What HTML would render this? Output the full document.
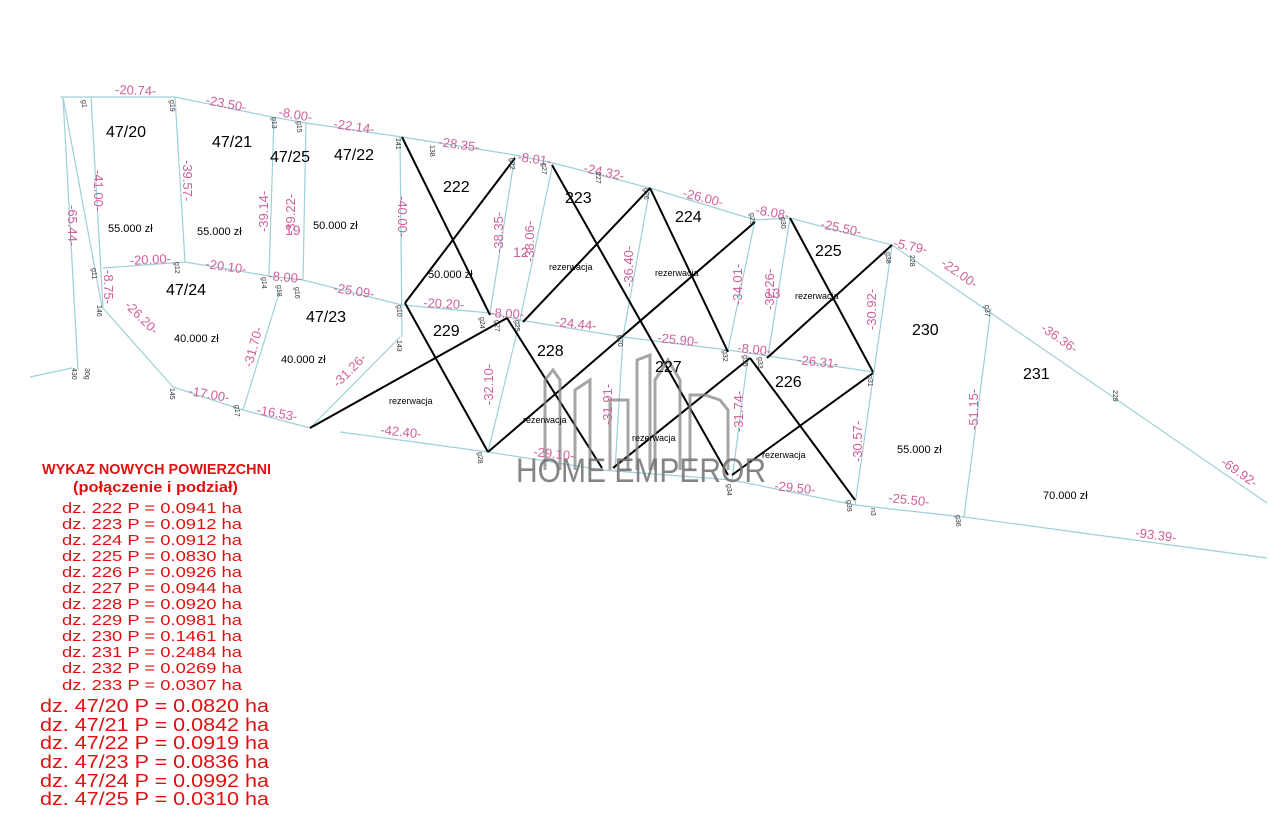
<!DOCTYPE html>
<html><head><meta charset="utf-8"><style>
html,body{margin:0;padding:0;background:#fff;}
svg{display:block;}
.b{stroke:#9fd0d6;stroke-width:1.2;fill:none}
.k{stroke:#000;stroke-width:2;fill:none}
.d{fill:#d0609a;font-family:"Liberation Sans",sans-serif;font-size:13px}
.n{fill:#333;font-family:"Liberation Sans",sans-serif;font-size:7px}
.p{fill:#000;font-family:"Liberation Sans",sans-serif;font-size:16px}
.z{fill:#000;font-family:"Liberation Sans",sans-serif;font-size:11px}
.r{fill:#000;font-family:"Liberation Sans",sans-serif;font-size:9px}
.red{fill:#e01010;font-family:"Liberation Sans",sans-serif}
</style></head><body>
<svg width="1280" height="838" viewBox="0 0 1280 838" xmlns="http://www.w3.org/2000/svg">
<!-- boundaries -->
<g class="b">
<polyline points="60,97 93,97 175,97 272,117 306,123 402,137 515,155 553,163 650,188 755,220 790,218 892,245 1267,503"/>
<polyline points="103,268 185,262 269,276 303,280 402,305 490,313 520,320 623,337 728,350 768,356 873,372"/>
<polyline points="340,432 488,452 602,470 732,480 855,505 964,517 1267,558"/>
<polyline points="102,307 173,387 243,410 310,428"/>
<line x1="63" y1="97" x2="102" y2="307"/>
<line x1="63" y1="97" x2="78" y2="370"/>
<line x1="91" y1="97" x2="103" y2="307"/>
<line x1="175" y1="97" x2="185" y2="262"/>
<line x1="274" y1="117" x2="269" y2="276"/>
<line x1="306" y1="123" x2="303" y2="280"/>
<line x1="280" y1="290" x2="243" y2="410"/>
<line x1="400" y1="137" x2="402" y2="337"/>
<line x1="400" y1="337" x2="310" y2="428"/>
<line x1="515" y1="155" x2="490" y2="313"/>
<line x1="553" y1="163" x2="520" y2="320"/>
<line x1="520" y1="320" x2="488" y2="452"/>
<line x1="650" y1="188" x2="623" y2="337"/>
<line x1="623" y1="337" x2="615" y2="470"/>
<line x1="755" y1="220" x2="728" y2="350"/>
<line x1="748" y1="356" x2="732" y2="480"/>
<line x1="790" y1="218" x2="768" y2="356"/>
<line x1="892" y1="245" x2="855" y2="505"/>
<line x1="991" y1="308" x2="964" y2="517"/>
<line x1="30" y1="377" x2="72" y2="368"/>
</g>
<!-- black X lines -->
<g class="k">
<line x1="402" y1="137" x2="490" y2="315"/>
<line x1="515" y1="158" x2="405" y2="303"/>
<line x1="552" y1="165" x2="728" y2="475"/>
<line x1="650" y1="188" x2="523" y2="322"/>
<line x1="650" y1="188" x2="728" y2="352"/>
<line x1="755" y1="222" x2="488" y2="452"/>
<line x1="507" y1="318" x2="602" y2="468"/>
<line x1="507" y1="318" x2="310" y2="428"/>
<line x1="405" y1="303" x2="488" y2="452"/>
<line x1="790" y1="218" x2="873" y2="372"/>
<line x1="892" y1="245" x2="767" y2="358"/>
<line x1="750" y1="358" x2="855" y2="500"/>
<line x1="750" y1="358" x2="613" y2="468"/>
<line x1="873" y1="373" x2="732" y2="475"/>
</g>
<!-- watermark -->
<g stroke="#888" stroke-width="3" fill="none" opacity="0.75">
<polyline points="545,470 545,380 553,370 560,380 560,470"/>
<polyline points="575,470 575,390 590,380 590,470"/>
<polyline points="610,470 610,400 628,400 628,470"/>
<polyline points="637,470 637,360 650,355 650,470"/>
<polyline points="655,470 655,380 668,360 680,380 680,470"/>
<polyline points="690,470 690,395 705,395 720,400 728,410 728,470"/>
</g>
<text x="516" y="482" font-family="Liberation Sans,sans-serif" font-size="34" fill="#707070" opacity="0.85" textLength="250" lengthAdjust="spacingAndGlyphs">HOME EMPEROR</text>
<!-- dimension labels -->
<g class="d">
<text x="115" y="94" transform="rotate(2 115 94)">-20.74-</text>
<text x="205" y="104" transform="rotate(11 205 104)">-23.50-</text>
<text x="278" y="116" transform="rotate(10 278 116)">-8.00-</text>
<text x="333" y="128" transform="rotate(8 333 128)">-22.14-</text>
<text x="438" y="146" transform="rotate(8 438 146)">-28.35-</text>
<text x="517" y="161" transform="rotate(8 517 161)">-8.01-</text>
<text x="583" y="172" transform="rotate(12 583 172)">-24.32-</text>
<text x="682" y="197" transform="rotate(14 682 197)">-26.00-</text>
<text x="755" y="214" transform="rotate(10 755 214)">-8.08-</text>
<text x="820" y="228" transform="rotate(12 820 228)">-25.50-</text>
<text x="893" y="247" transform="rotate(12 893 247)">-5.79-</text>
<text x="940" y="265" transform="rotate(35 940 265)">-22.00-</text>
<text x="1040" y="330" transform="rotate(35 1040 330)">-36.36-</text>
<text x="1220" y="464" transform="rotate(35 1220 464)">-69.92-</text>
<text x="130" y="265" transform="rotate(-3 130 265)">-20.00-</text>
<text x="205" y="268" transform="rotate(8 205 268)">-20.10-</text>
<text x="268" y="280" transform="rotate(5 268 280)">-8.00-</text>
<text x="333" y="292" transform="rotate(9 333 292)">-25.09-</text>
<text x="423" y="307" transform="rotate(3 423 307)">-20.20-</text>
<text x="490" y="317" transform="rotate(3 490 317)">-8.00-</text>
<text x="555" y="326" transform="rotate(6 555 326)">-24.44-</text>
<text x="657" y="342" transform="rotate(6 657 342)">-25.90-</text>
<text x="737" y="352" transform="rotate(6 737 352)">-8.00-</text>
<text x="797" y="364" transform="rotate(6 797 364)">-26.31-</text>
<text x="188" y="395" transform="rotate(10 188 395)">-17.00-</text>
<text x="256" y="414" transform="rotate(10 256 414)">-16.53-</text>
<text x="380" y="434" transform="rotate(6 380 434)">-42.40-</text>
<text x="533" y="456" transform="rotate(6 533 456)">-29.10-</text>
<text x="774" y="490" transform="rotate(6 774 490)">-29.50-</text>
<text x="888" y="502" transform="rotate(6 888 502)">-25.50-</text>
<text x="1135" y="537" transform="rotate(7 1135 537)">-93.39-</text>
<text x="124" y="306" transform="rotate(45 124 306)">-26.20-</text>
<text x="338" y="388" transform="rotate(-45 338 388)">-31.26-</text>
<text x="94" y="170" transform="rotate(90 94 170)">-41.00-</text>
<text x="183" y="160" transform="rotate(90 183 160)">-39.57-</text>
<text x="268" y="232" transform="rotate(-90 268 232)">-39.14-</text>
<text x="295" y="235" transform="rotate(-90 295 235)">-39.22-</text>
<text x="398" y="196" transform="rotate(90 398 196)">-40.00-</text>
<text x="68" y="205" transform="rotate(90 68 205)">-65.44-</text>
<text x="104" y="270" transform="rotate(90 104 270)">-8.75-</text>
<text x="252" y="368" transform="rotate(-75 252 368)">-31.70-</text>
<text x="503" y="253" transform="rotate(-90 503 253)">-38.35-</text>
<text x="534" y="262" transform="rotate(-90 534 262)">-38.06-</text>
<text x="633" y="287" transform="rotate(-90 633 287)">-36.40-</text>
<text x="742" y="305" transform="rotate(-90 742 305)">-34.01-</text>
<text x="774" y="310" transform="rotate(-90 774 310)">-32.26-</text>
<text x="876" y="330" transform="rotate(-90 876 330)">-30.92-</text>
<text x="493" y="405" transform="rotate(-90 493 405)">-32.10-</text>
<text x="612" y="425" transform="rotate(-90 612 425)">-31.91-</text>
<text x="743" y="432" transform="rotate(-90 743 432)">-31.74-</text>
<text x="862" y="462" transform="rotate(-90 862 462)">-30.57-</text>
<text x="978" y="430" transform="rotate(-90 978 430)">-51.15-</text>
<text x="285" y="235" font-size="14">19</text>
<text x="513" y="257" font-size="14">12</text>
<text x="765" y="298" font-size="14">13</text>
</g>
<!-- point numbers -->
<g class="n">
<text x="82" y="100" transform="rotate(90 82 100)">g1</text>
<text x="170" y="100" transform="rotate(90 170 100)">g19</text>
<text x="272" y="117" transform="rotate(90 272 117)">g13</text>
<text x="297" y="121" transform="rotate(90 297 121)">g15</text>
<text x="396" y="138" transform="rotate(90 396 138)">141</text>
<text x="430" y="145" transform="rotate(90 430 145)">138</text>
<text x="510" y="158" transform="rotate(90 510 158)">g22</text>
<text x="542" y="163" transform="rotate(90 542 163)">g27</text>
<text x="596" y="172" transform="rotate(90 596 172)">227</text>
<text x="644" y="188" transform="rotate(90 644 188)">g26</text>
<text x="750" y="213" transform="rotate(90 750 213)">g29</text>
<text x="781" y="217" transform="rotate(90 781 217)">g30</text>
<text x="886" y="252" transform="rotate(90 886 252)">g38</text>
<text x="910" y="255" transform="rotate(90 910 255)">228</text>
<text x="985" y="305" transform="rotate(90 985 305)">g37</text>
<text x="1113" y="390" transform="rotate(90 1113 390)">229</text>
<text x="92" y="268" transform="rotate(90 92 268)">g11</text>
<text x="175" y="262" transform="rotate(90 175 262)">g12</text>
<text x="262" y="277" transform="rotate(90 262 277)">g14</text>
<text x="277" y="285" transform="rotate(90 277 285)">g18</text>
<text x="295" y="287" transform="rotate(90 295 287)">g16</text>
<text x="97" y="305" transform="rotate(90 97 305)">146</text>
<text x="397" y="305" transform="rotate(90 397 305)">g10</text>
<text x="397" y="340" transform="rotate(90 397 340)">143</text>
<text x="480" y="317" transform="rotate(90 480 317)">g24</text>
<text x="495" y="320" transform="rotate(90 495 320)">g27</text>
<text x="515" y="320" transform="rotate(90 515 320)">g25</text>
<text x="618" y="335" transform="rotate(90 618 335)">g20</text>
<text x="723" y="350" transform="rotate(90 723 350)">g32</text>
<text x="743" y="355" transform="rotate(90 743 355)">g35</text>
<text x="758" y="357" transform="rotate(90 758 357)">g33</text>
<text x="868" y="375" transform="rotate(90 868 375)">g31</text>
<text x="72" y="368" transform="rotate(90 72 368)">430</text>
<text x="85" y="368" transform="rotate(90 85 368)">30g</text>
<text x="170" y="388" transform="rotate(90 170 388)">145</text>
<text x="235" y="405" transform="rotate(90 235 405)">g17</text>
<text x="478" y="452" transform="rotate(90 478 452)">g28</text>
<text x="727" y="484" transform="rotate(90 727 484)">g34</text>
<text x="847" y="500" transform="rotate(90 847 500)">g39</text>
<text x="871" y="508" transform="rotate(90 871 508)">n3</text>
<text x="956" y="515" transform="rotate(90 956 515)">g36</text>
</g>
<!-- parcel numbers -->
<g class="p">
<text x="106" y="137">47/20</text>
<text x="212" y="147">47/21</text>
<text x="270" y="162">47/25</text>
<text x="334" y="160">47/22</text>
<text x="166" y="295">47/24</text>
<text x="306" y="322">47/23</text>
<text x="443" y="192">222</text>
<text x="565" y="203">223</text>
<text x="675" y="222">224</text>
<text x="815" y="256">225</text>
<text x="433" y="336">229</text>
<text x="537" y="356">228</text>
<text x="655" y="372">227</text>
<text x="775" y="387">226</text>
<text x="912" y="335">230</text>
<text x="1023" y="379">231</text>
</g>
<g class="z">
<text x="108" y="232">55.000 zł</text>
<text x="197" y="235">55.000 zł</text>
<text x="313" y="229">50.000 zł</text>
<text x="428" y="278">50.000 zł</text>
<text x="174" y="342">40.000 zł</text>
<text x="281" y="363">40.000 zł</text>
<text x="897" y="453">55.000 zł</text>
<text x="1043" y="499">70.000 zł</text>
</g>
<g class="r">
<text x="549" y="270">rezerwacja</text>
<text x="655" y="276">rezerwacja</text>
<text x="795" y="299">rezerwacja</text>
<text x="389" y="404">rezerwacja</text>
<text x="523" y="423">rezerwacja</text>
<text x="632" y="441">rezerwacja</text>
<text x="762" y="458">rezerwacja</text>
</g>
<!-- red list -->
<text class="red" x="42" y="474" font-size="15" font-weight="bold" textLength="229" lengthAdjust="spacingAndGlyphs">WYKAZ NOWYCH POWIERZCHNI</text>
<text class="red" x="73" y="492" font-size="15" font-weight="bold" textLength="165" lengthAdjust="spacingAndGlyphs">(połączenie i podział)</text>
<g class="red" font-size="15">
<text x="62" y="513" textLength="180" lengthAdjust="spacingAndGlyphs">dz. 222 P = 0.0941 ha</text>
<text x="62" y="529" textLength="180" lengthAdjust="spacingAndGlyphs">dz. 223 P = 0.0912 ha</text>
<text x="62" y="545" textLength="180" lengthAdjust="spacingAndGlyphs">dz. 224 P = 0.0912 ha</text>
<text x="62" y="561" textLength="180" lengthAdjust="spacingAndGlyphs">dz. 225 P = 0.0830 ha</text>
<text x="62" y="577" textLength="180" lengthAdjust="spacingAndGlyphs">dz. 226 P = 0.0926 ha</text>
<text x="62" y="593" textLength="180" lengthAdjust="spacingAndGlyphs">dz. 227 P = 0.0944 ha</text>
<text x="62" y="609" textLength="180" lengthAdjust="spacingAndGlyphs">dz. 228 P = 0.0920 ha</text>
<text x="62" y="625" textLength="180" lengthAdjust="spacingAndGlyphs">dz. 229 P = 0.0981 ha</text>
<text x="62" y="641" textLength="180" lengthAdjust="spacingAndGlyphs">dz. 230 P = 0.1461 ha</text>
<text x="62" y="657" textLength="180" lengthAdjust="spacingAndGlyphs">dz. 231 P = 0.2484 ha</text>
<text x="62" y="673" textLength="180" lengthAdjust="spacingAndGlyphs">dz. 232 P = 0.0269 ha</text>
<text x="62" y="690" textLength="180" lengthAdjust="spacingAndGlyphs">dz. 233 P = 0.0307 ha</text>
</g>
<g class="red" font-size="18">
<text x="40" y="712" textLength="229" lengthAdjust="spacingAndGlyphs">dz. 47/20 P = 0.0820 ha</text>
<text x="40" y="731" textLength="229" lengthAdjust="spacingAndGlyphs">dz. 47/21 P = 0.0842 ha</text>
<text x="40" y="749" textLength="229" lengthAdjust="spacingAndGlyphs">dz. 47/22 P = 0.0919 ha</text>
<text x="40" y="768" textLength="229" lengthAdjust="spacingAndGlyphs">dz. 47/23 P = 0.0836 ha</text>
<text x="40" y="787" textLength="229" lengthAdjust="spacingAndGlyphs">dz. 47/24 P = 0.0992 ha</text>
<text x="40" y="805" textLength="229" lengthAdjust="spacingAndGlyphs">dz. 47/25 P = 0.0310 ha</text>
</g>
</svg>
</body></html>
